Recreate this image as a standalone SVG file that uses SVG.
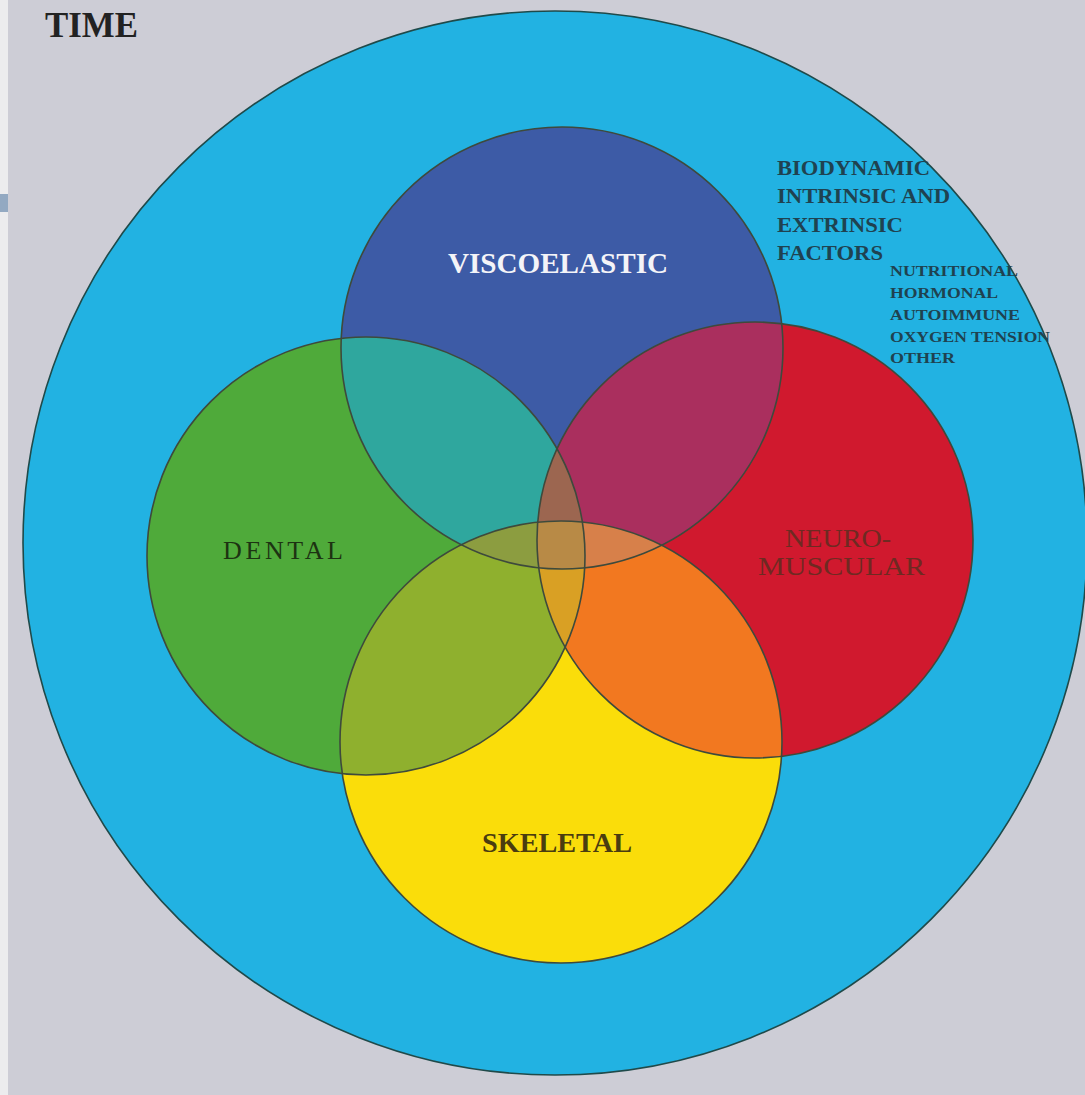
<svg xmlns="http://www.w3.org/2000/svg" width="1085" height="1095" viewBox="0 0 1085 1095">
  <style>
    .outline { fill: none; stroke: #3e4a3c; stroke-width: 1.6; }
    .serif { font-family: "Liberation Serif", "DejaVu Serif", serif; }
    .b { font-weight: bold; }
    .factor { fill: #1f4250; font-weight: bold; }
  </style>
  <defs>
    <clipPath id="cV"><circle cx="562" cy="348" r="221"/></clipPath>
    <clipPath id="cD"><circle cx="366" cy="556" r="219"/></clipPath>
    <clipPath id="cN"><circle cx="755" cy="540" r="218"/></clipPath>
    <clipPath id="cS"><circle cx="561" cy="742" r="221"/></clipPath>
  </defs>

  <!-- background -->
  <rect x="0" y="0" width="1085" height="1095" fill="#cdcdd6"/>
  <rect x="0" y="0" width="8" height="1095" fill="#ececee"/>
  <rect x="0" y="194" width="8" height="18" fill="#93a9c2"/>

  <!-- TIME outer circle -->
  <g id="time">
    <circle cx="555" cy="543" r="532" fill="#22b2e2" stroke="#1f4a4a" stroke-width="1.6"/>
    <text class="serif b" x="45" y="37" font-size="35" fill="#222222" textLength="93" lengthAdjust="spacingAndGlyphs">TIME</text>
  </g>

  <!-- base circles -->
  <g id="viscoelastic-fill"><circle cx="562" cy="348" r="221" fill="#3d5ba6"/></g>
  <g id="dental-fill"><circle cx="366" cy="556" r="219" fill="#4faa3a"/></g>
  <g id="neuromuscular-fill"><circle cx="755" cy="540" r="218" fill="#d0192e"/></g>
  <g id="skeletal-fill"><circle cx="561" cy="742" r="221" fill="#fadd0a"/></g>

  <!-- pairwise overlaps -->
  <g id="overlaps">
    <g clip-path="url(#cV)"><circle cx="366" cy="556" r="219" fill="#2fa79e"/></g>
    <g clip-path="url(#cV)"><circle cx="755" cy="540" r="218" fill="#aa2f5e"/></g>
    <g clip-path="url(#cD)"><circle cx="561" cy="742" r="221" fill="#8fb02e"/></g>
    <g clip-path="url(#cN)"><circle cx="561" cy="742" r="221" fill="#f27820"/></g>
    <!-- triple overlaps -->
    <g clip-path="url(#cV)"><g clip-path="url(#cD)"><circle cx="755" cy="540" r="218" fill="#9c6650"/></g></g>
    <g clip-path="url(#cS)"><g clip-path="url(#cD)"><circle cx="755" cy="540" r="218" fill="#d9a024"/></g></g>
    <g clip-path="url(#cV)"><g clip-path="url(#cD)"><circle cx="561" cy="742" r="221" fill="#8c9d40"/></g></g>
    <g clip-path="url(#cV)"><g clip-path="url(#cN)"><circle cx="561" cy="742" r="221" fill="#d7804a"/></g></g>
    <!-- all four -->
    <g clip-path="url(#cV)"><g clip-path="url(#cD)"><g clip-path="url(#cN)"><circle cx="561" cy="742" r="221" fill="#b88a46"/></g></g></g>
  </g>

  <!-- outlines and labels -->
  <g id="viscoelastic">
    <circle class="outline" cx="562" cy="348" r="221"/>
    <text class="serif b" x="448" y="273" font-size="30" fill="#f4f4f8" textLength="220" lengthAdjust="spacingAndGlyphs">VISCOELASTIC</text>
  </g>
  <g id="dental">
    <circle class="outline" cx="366" cy="556" r="219"/>
    <text class="serif" x="223" y="559" font-size="26" fill="#1d3312" textLength="120" lengthAdjust="spacing">DENTAL</text>
  </g>
  <g id="neuromuscular">
    <circle class="outline" cx="755" cy="540" r="218"/>
    <text class="serif" x="785" y="547" font-size="25" fill="#6e2a22" textLength="106" lengthAdjust="spacingAndGlyphs">NEURO-</text>
    <text class="serif" x="758" y="575" font-size="25" fill="#6e2a22" textLength="167" lengthAdjust="spacingAndGlyphs">MUSCULAR</text>
  </g>
  <g id="skeletal">
    <circle class="outline" cx="561" cy="742" r="221"/>
    <text class="serif b" x="482" y="852" font-size="27" fill="#4a3c10" textLength="150" lengthAdjust="spacingAndGlyphs">SKELETAL</text>
  </g>

  <g id="factors" class="serif">
    <text class="factor" x="777" y="175" font-size="21" textLength="153" lengthAdjust="spacingAndGlyphs">BIODYNAMIC</text>
    <text class="factor" x="777" y="203" font-size="21" textLength="173" lengthAdjust="spacingAndGlyphs">INTRINSIC AND</text>
    <text class="factor" x="777" y="232" font-size="21" textLength="126" lengthAdjust="spacingAndGlyphs">EXTRINSIC</text>
    <text class="factor" x="777" y="260" font-size="21" textLength="106" lengthAdjust="spacingAndGlyphs">FACTORS</text>
    <text class="factor" x="890" y="276" font-size="15" textLength="128" lengthAdjust="spacingAndGlyphs">NUTRITIONAL</text>
    <text class="factor" x="890" y="298" font-size="15" textLength="108" lengthAdjust="spacingAndGlyphs">HORMONAL</text>
    <text class="factor" x="890" y="320" font-size="15" textLength="130" lengthAdjust="spacingAndGlyphs">AUTOIMMUNE</text>
    <text class="factor" x="890" y="342" font-size="15" textLength="160" lengthAdjust="spacingAndGlyphs">OXYGEN TENSION</text>
    <text class="factor" x="890" y="363" font-size="15" textLength="65" lengthAdjust="spacingAndGlyphs">OTHER</text>
  </g>
</svg>
